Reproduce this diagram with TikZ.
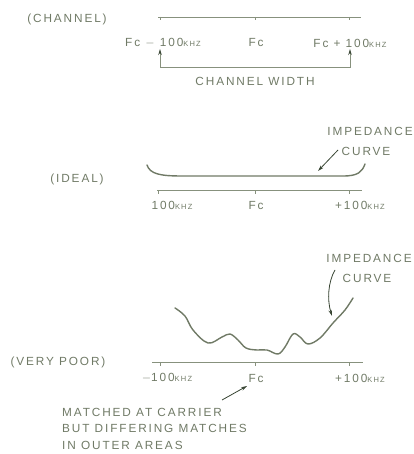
\documentclass[tikz,border=0pt]{standalone}
\usepackage{fontspec}
\newfontfamily\lettering{Liberation Sans}[LetterSpace=16]
\usetikzlibrary{arrows.meta}
\definecolor{ink}{RGB}{112,122,102}
\definecolor{lineink}{RGB}{135,145,125}
\definecolor{dark}{RGB}{55,68,50}
\begin{document}
\begin{tikzpicture}[x=1pt,y=-1pt,
  lbl/.style={font=\lettering\fontsize{11.8}{15}\selectfont, text=ink, inner sep=0pt},
  ax/.style={draw=lineink, line width=0.9pt},
  crv/.style={draw=ink, line width=1.4pt, line cap=round},
  pointer/.style={draw=dark, line width=0.8pt, -{Stealth[length=6pt,width=3.5pt]}}
]
\useasboundingbox (0,0) rectangle (413,454);
\newcommand{\khz}{{\fontsize{7.5}{8}\selectfont KHZ}}
% ---------- top: channel ----------
\node[lbl] (chan) at (67,19) {(CHANNEL)};
\draw[ax] (158,17) -- (361,17);
\foreach \x in {160,255,349} \draw[ax] (\x,17) -- (\x,20.5);
\node[lbl] (fl) at (163,43) {Fc $-$ 100\khz};
\node[lbl] (fc) at (256,43) {Fc};
\node[lbl] (fr) at (350,43) {Fc + 100\khz};
\coordinate (wl) at (160,49);
\coordinate (wr) at (350,49);
\coordinate (bl) at (160,67);
\coordinate (br) at (350,67);
\draw[draw=lineink, line width=0.9pt, {Stealth[length=6pt,width=3.5pt,color=dark]}-{Stealth[length=6pt,width=3.5pt,color=dark]}] (wl) -- (bl) -- (br) -- (wr);
\node[lbl] (cw) at (255,81) {CHANNEL WIDTH};
% ---------- middle: ideal ----------
\node[lbl] (ideal) at (77,179) {(IDEAL)};
\draw[crv] (147,165) .. controls (150,174) and (160,176) .. (182,176) -- (343,176) .. controls (358,176) and (362,172) .. (365,164);
\draw[ax] (157,190) -- (362,190);
\foreach \x in {158,255,349} \draw[ax] (\x,190) -- (\x,194);
\node[lbl] (ml) at (172,205) {100\khz};
\node[lbl] (mc) at (256,205) {Fc};
\node[lbl] (mr) at (360,205) {+100\khz};
\node[lbl] (imp1) at (370,131) {IMPEDANCE};
\node[lbl] (cur1) at (366,151) {CURVE};
\coordinate (t1) at (338,150);
\coordinate (h1) at (318,171);
\draw[pointer] (t1) -- (h1);
% ---------- bottom: very poor ----------
\node[lbl] (poor) at (58,362) {(VERY POOR)};
\draw[crv] plot[smooth, tension=0.6] coordinates {
  (175,308) (185,316) (193,330) (208,343) (222,337) (230,334) (238,340)
  (246,348) (257,350) (267,350) (278,354) (285,347) (293,334) (300,337)
  (308,344) (320,338) (333,323) (345,310) (353,298)};
\draw[ax] (152,362) -- (363,362);
\foreach \x in {160,255,349} \draw[ax] (\x,362) -- (\x,366);
\node[lbl] (bl2) at (167,378) {$-$100\khz};
\node[lbl] (bc) at (256,378) {Fc};
\node[lbl] (br2) at (360,378) {+100\khz};
\node[lbl] (imp2) at (369,258) {IMPEDANCE};
\node[lbl] (cur2) at (367,278) {CURVE};
\coordinate (t2) at (335,270);
\coordinate (h2) at (332,316);
\draw[pointer] (t2) .. controls (328,282) and (327,300) .. (h2);
\node[lbl, anchor=west] (n1) at (62,412) {MATCHED AT CARRIER};
\node[lbl, anchor=west] (n2) at (62,428) {BUT DIFFERING MATCHES};
\node[lbl, anchor=west] (n3) at (62,445) {IN OUTER AREAS};
\coordinate (t3) at (222,400);
\coordinate (h3) at (247,386);
\draw[pointer] (t3) -- (h3);
\end{tikzpicture}
\end{document}
